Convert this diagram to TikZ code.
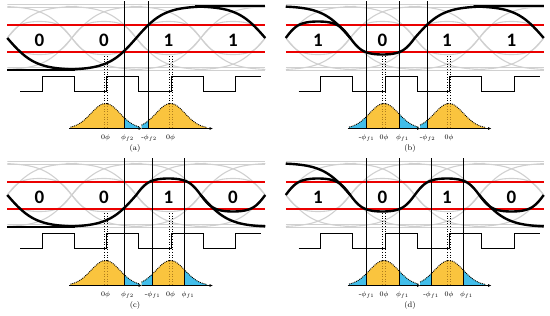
\documentclass[tikz,border=0pt]{standalone}
\usepackage{fontspec}
\usetikzlibrary{arrows.meta}
\newfontfamily\bitfont{Carlito}
\definecolor{eyegray}{RGB}{208,208,208}
\definecolor{levred}{RGB}{235,0,0}
\definecolor{pdfgold}{RGB}{250,196,62}
\definecolor{pdfblue}{RGB}{66,190,234}
\definecolor{dotgold}{RGB}{175,125,30}

% transitions (local panel units, 1pt = 1px)
\newcommand{\trup}[1]{38-32*tanh((\x-#1)/28)}
\newcommand{\trdown}[1]{38+32*tanh((\x-#1)/28)}
\newcommand{\trosc}[1]{38-18.23*tanh(1.5*cos((\x-#1)*2.7907))}

% gray eye, decision levels and clock
\newcommand{\eyebg}{%
  \begin{scope}
    \clip (7.25,0) rectangle (265.25,80);
    \foreach \y in {4.5,7.5,67.5,70.5} \draw[eye] (7.25,\y) -- (265.25,\y);
    \foreach \b in {7.25,71.75,136.25,200.75,265.25}{
      \pgfmathsetmacro\lo{\b-70}
      \pgfmathsetmacro\hi{\b+70}
      \draw[eye] plot[domain=\lo:\hi,samples=60] (\x,{\trup{\b}});
      \draw[eye] plot[domain=\lo:\hi,samples=60] (\x,{\trdown{\b}});
    }
    \draw[eye] plot[domain=7.25:265.25,samples=140] (\x,{\trosc{39.5}});
    \draw[eye] plot[domain=7.25:265.25,samples=140] (\x,{\trosc{104}});
  \end{scope}
  \foreach \y in {25,52} \draw[lev] (7.25,\y) -- (265.25,\y);
  \draw[clk] (20,91) -- (42,91) -- (42,76) -- (74.25,76) -- (74.25,91) -- (106.5,91) -- (106.5,76)
    -- (138.75,76) -- (138.75,91) -- (171,91) -- (171,76) -- (203.25,76) -- (203.25,91)
    -- (235.5,91) -- (235.5,76) -- (261,76);
}

% phase distributions
\newcommand{\gfill}[4]{\fill[#1] plot[domain=#3:#4,samples=40] (\x,{128.5-25*exp(-0.5*((\x-#2)/14.5)*((\x-#2)/14.5))}) -- (#4,128.5) -- (#3,128.5) -- cycle;}
\newcommand{\gedge}[3]{\draw[gline] plot[domain=#2:#3,samples=50] (\x,{128.5-25*exp(-0.5*((\x-#1)/14.5)*((\x-#1)/14.5))});}
\newcommand{\centerdots}{%
  \foreach \c in {105.5,170.5}{
    \foreach \d in {-1.6,1.6}{
      \draw[cdot] (\c+\d,56) -- (\c+\d,103.6);
      \draw[cdot,dotgold] (\c+\d,103.6) -- (\c+\d,128.5);
    }
  }
  \gedge{105.5}{70.5}{140}
  \gedge{170.5}{141.5}{207}
}
\newcommand{\pdfaxes}{%
  \draw[paxis] (69,128.5) -- (142,128.5);
  \draw[paxis] (141.5,128.5) -- (213,128.5);
}

\begin{document}
\begin{tikzpicture}[x=1pt, y=-1pt,
  sig/.style={line width=2.4pt},
  eye/.style={eyegray, line width=1.1pt},
  lev/.style={levred, line width=1.2pt},
  clk/.style={line width=0.9pt},
  cut/.style={line width=0.8pt},
  paxis/.style={line width=0.8pt, -{Latex[length=3.5pt,width=3pt]}},
  cdot/.style={dotted, line width=0.6pt},
  gline/.style={densely dotted, line width=0.9pt},
  bit/.style={font=\bitfont\bfseries\fontsize{19}{20}\selectfont, inner sep=0pt},
  lab/.style={font=\fontsize{7.5}{8}\selectfont, anchor=base, inner sep=0pt},
  capt/.style={font=\fontsize{8}{9}\selectfont, anchor=base, inner sep=0pt}]
\useasboundingbox (0,0) rectangle (550,316);

% (a) 0 0 1 1
\begin{scope}
  \eyebg
  \draw[sig] (7.25,70) -- (75,70);
  \draw[sig] plot[domain=7.25:75,samples=40] (\x,{\trdown{7.25}});
  \draw[sig] plot[domain=65:207,samples=90] (\x,{\trup{136.25}});
  \draw[sig] (195,6) -- (265.25,6);
  \draw[sig] plot[domain=195:265.25,samples=40] (\x,{\trdown{265.25}});
  \node[bit] (a-b1) at (39.5,40) {0};
  \node[bit] (a-b2) at (104,40) {0};
  \node[bit] (a-b3) at (168.5,40) {1};
  \node[bit] (a-b4) at (233,40) {1};
  \gfill{pdfgold}{105.5}{70.5}{140}
  \gfill{pdfblue}{105.5}{124}{140}
  \gfill{pdfgold}{170.5}{141.5}{207}
  \gfill{pdfblue}{170.5}{141.5}{148.5}
  \centerdots
  \draw[cut] (124,1) -- (124,128.5);
  \draw[cut] (148.5,1) -- (148.5,128.5);
  \pdfaxes
  \node[lab] (a-z1) at (105.5,139) {$0\phi$};
  \node[lab] (a-p1) at (127.5,139) {$\phi_{f2}$};
  \node[lab] (a-m2) at (149,139) {-$\phi_{f2}$};
  \node[lab] (a-z2) at (170.5,139) {$0\phi$};
  \node[capt] (a-cap) at (135,150.5) {(a)};
\end{scope}

% (b) 1 0 1 1
\begin{scope}[shift={(278.5,0)}]
  \eyebg
  \draw[sig] plot[domain=7.25:71.75,samples=40] (\x,{\trdown{71.75}});
  \draw[sig] plot[domain=7.25:136.25,samples=80] (\x,{\trosc{39.5}})
    -- plot[domain=136.25:207,samples=50] (\x,{\trup{136.25}});
  \draw[sig] (195,6) -- (265.25,6);
  \draw[sig] plot[domain=195:265.25,samples=40] (\x,{\trdown{265.25}});
  \node[bit] (b-b1) at (39.5,40) {1};
  \node[bit] (b-b2) at (104,40) {0};
  \node[bit] (b-b3) at (168.5,40) {1};
  \node[bit] (b-b4) at (233,40) {1};
  \gfill{pdfgold}{105.5}{70.5}{140}
  \gfill{pdfblue}{105.5}{70.5}{87.5}
  \gfill{pdfblue}{105.5}{120.5}{140}
  \gfill{pdfgold}{170.5}{141.5}{207}
  \gfill{pdfblue}{170.5}{141.5}{148.5}
  \centerdots
  \draw[cut] (87.5,1) -- (87.5,128.5);
  \draw[cut] (120.5,1) -- (120.5,128.5);
  \draw[cut] (148.5,1) -- (148.5,128.5);
  \pdfaxes
  \node[lab] (b-m1) at (88,139) {-$\phi_{f1}$};
  \node[lab] (b-z1) at (105.5,139) {$0\phi$};
  \node[lab] (b-p1) at (124,139) {$\phi_{f1}$};
  \node[lab] (b-m2) at (149,139) {-$\phi_{f2}$};
  \node[lab] (b-z2) at (170.5,139) {$0\phi$};
  \node[capt] (b-cap) at (131.5,150.5) {(b)};
\end{scope}

% (c) 0 0 1 0
\begin{scope}[shift={(0,157)}]
  \eyebg
  \draw[sig] (7.25,70) -- (75,70);
  \draw[sig] plot[domain=7.25:75,samples=40] (\x,{\trdown{7.25}});
  \draw[sig] plot[domain=65:136.25,samples=50] (\x,{\trup{136.25}})
    -- plot[domain=136.25:265.25,samples=90] (\x,{\trosc{168.5}});
  \draw[sig] plot[domain=200.75:265.25,samples=40] (\x,{\trdown{200.75}});
  \node[bit] (c-b1) at (39.5,40) {0};
  \node[bit] (c-b2) at (104,40) {0};
  \node[bit] (c-b3) at (168.5,40) {1};
  \node[bit] (c-b4) at (233,40) {0};
  \gfill{pdfgold}{105.5}{70.5}{140}
  \gfill{pdfblue}{105.5}{124}{140}
  \gfill{pdfgold}{170.5}{141.5}{207}
  \gfill{pdfblue}{170.5}{141.5}{152.5}
  \gfill{pdfblue}{170.5}{184.5}{207}
  \centerdots
  \draw[cut] (124,1) -- (124,128.5);
  \draw[cut] (152.5,1) -- (152.5,128.5);
  \draw[cut] (184.5,1) -- (184.5,128.5);
  \pdfaxes
  \node[lab] (c-z1) at (105.5,139) {$0\phi$};
  \node[lab] (c-p1) at (127.5,139) {$\phi_{f2}$};
  \node[lab] (c-m2) at (152.5,139) {-$\phi_{f1}$};
  \node[lab] (c-z2) at (170.5,139) {$0\phi$};
  \node[lab] (c-p2) at (188,139) {$\phi_{f1}$};
  \node[capt] (c-cap) at (135,150.5) {(c)};
\end{scope}

% (d) 1 0 1 0
\begin{scope}[shift={(278.5,157)}]
  \eyebg
  \draw[sig] plot[domain=7.25:71.75,samples=40] (\x,{\trdown{71.75}});
  \draw[sig] plot[domain=7.25:265.25,samples=150] (\x,{\trosc{39.5}});
  \draw[sig] plot[domain=200.75:265.25,samples=40] (\x,{\trdown{200.75}});
  \node[bit] (d-b1) at (39.5,40) {1};
  \node[bit] (d-b2) at (104,40) {0};
  \node[bit] (d-b3) at (168.5,40) {1};
  \node[bit] (d-b4) at (233,40) {0};
  \gfill{pdfgold}{105.5}{70.5}{140}
  \gfill{pdfblue}{105.5}{70.5}{87.5}
  \gfill{pdfblue}{105.5}{120.5}{140}
  \gfill{pdfgold}{170.5}{141.5}{207}
  \gfill{pdfblue}{170.5}{141.5}{152.5}
  \gfill{pdfblue}{170.5}{184.5}{207}
  \centerdots
  \draw[cut] (87.5,1) -- (87.5,128.5);
  \draw[cut] (120.5,1) -- (120.5,128.5);
  \draw[cut] (152.5,1) -- (152.5,128.5);
  \draw[cut] (184.5,1) -- (184.5,128.5);
  \pdfaxes
  \node[lab] (d-m1) at (88,139) {-$\phi_{f1}$};
  \node[lab] (d-z1) at (105.5,139) {$0\phi$};
  \node[lab] (d-p1) at (124,139) {$\phi_{f1}$};
  \node[lab] (d-m2) at (152.5,139) {-$\phi_{f1}$};
  \node[lab] (d-z2) at (170.5,139) {$0\phi$};
  \node[lab] (d-p2) at (188,139) {$\phi_{f1}$};
  \node[capt] (d-cap) at (131.5,150.5) {(d)};
\end{scope}
\end{tikzpicture}
\end{document}
